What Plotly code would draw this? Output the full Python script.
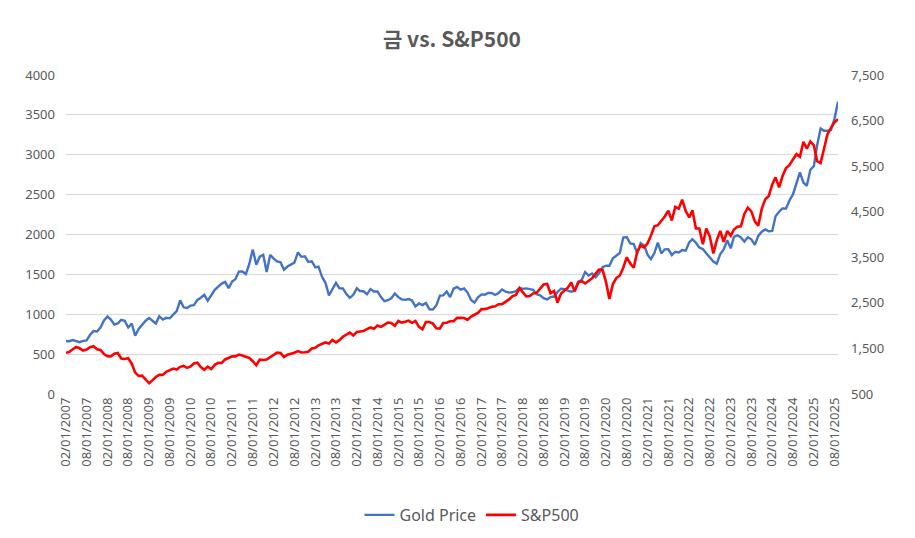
import plotly.graph_objects as go
import pandas as pd

# Monthly points, Feb 2007 .. Sep 2025 (month-end style values)
dates = pd.date_range("2007-02-01", "2025-09-01", freq="MS")

gold_price = [
    # 2007 Feb-Dec
    664, 662, 677, 659, 650, 665, 673, 743, 789, 783, 834,
    # 2008
    923, 971, 933, 871, 886, 930, 918, 834, 884, 730, 815, 870,
    # 2009
    919, 952, 916, 884, 975, 934, 955, 949, 996, 1040, 1175, 1087,
    # 2010
    1078, 1109, 1115, 1180, 1207, 1244, 1169, 1246, 1307, 1346, 1384, 1405,
    # 2011
    1327, 1411, 1439, 1535, 1536, 1505, 1628, 1813, 1620, 1722, 1746, 1531,
    # 2012
    1744, 1697, 1662, 1651, 1558, 1598, 1622, 1648, 1776, 1720, 1726, 1657,
    # 2013
    1664, 1588, 1598, 1469, 1394, 1235, 1314, 1394, 1326, 1324, 1253, 1205,
    # 2014
    1244, 1326, 1291, 1288, 1250, 1315, 1285, 1286, 1216, 1164, 1176, 1200,
    # 2015
    1260, 1214, 1187, 1180, 1191, 1172, 1098, 1135, 1115, 1142, 1062, 1060,
    # 2016
    1112, 1234, 1237, 1285, 1215, 1321, 1343, 1309, 1323, 1272, 1178, 1146,
    # 2017
    1212, 1249, 1245, 1266, 1266, 1242, 1267, 1311, 1283, 1271, 1275, 1291,
    # 2018
    1331, 1318, 1324, 1316, 1305, 1250, 1237, 1201, 1187, 1215, 1222, 1279,
    # 2019
    1321, 1316, 1295, 1283, 1295, 1409, 1427, 1528, 1485, 1511, 1464, 1515,
    # 2020
    1589, 1609, 1608, 1702, 1730, 1768, 1962, 1968, 1887, 1879, 1763, 1891,
    # 2021
    1863, 1743, 1691, 1768, 1899, 1763, 1814, 1815, 1743, 1784, 1774, 1806,
    # 2022
    1797, 1901, 1942, 1897, 1837, 1817, 1765, 1711, 1660, 1634, 1754, 1812,
    # 2023
    1928, 1826, 1969, 1990, 1962, 1912, 1965, 1940, 1870, 1983, 2036, 2063,
    # 2024
    2039, 2044, 2230, 2286, 2327, 2326, 2427, 2503, 2630, 2780, 2650, 2610,
    # 2025 Jan-Sep
    2812, 2858, 3115, 3330, 3300, 3300, 3310, 3450, 3665,
]

sp500 = [
    # 2007 Feb-Dec
    1406, 1420, 1482, 1530, 1503, 1455, 1474, 1527, 1549, 1481, 1468,
    # 2008
    1378, 1331, 1323, 1386, 1400, 1280, 1267, 1283, 1165, 969, 896, 903,
    # 2009
    826, 735, 798, 873, 919, 919, 987, 1021, 1057, 1036, 1096, 1115,
    # 2010
    1074, 1104, 1169, 1187, 1089, 1031, 1102, 1049, 1141, 1183, 1181, 1258,
    # 2011
    1286, 1327, 1326, 1364, 1345, 1321, 1292, 1219, 1131, 1253, 1247, 1258,
    # 2012
    1312, 1366, 1408, 1398, 1310, 1362, 1379, 1407, 1441, 1412, 1416, 1426,
    # 2013
    1498, 1515, 1569, 1598, 1631, 1606, 1686, 1633, 1682, 1757, 1806, 1848,
    # 2014
    1783, 1859, 1872, 1884, 1924, 1960, 1931, 2003, 1972, 2018, 2068, 2059,
    # 2015
    1995, 2105, 2068, 2086, 2107, 2063, 2104, 1973, 1920, 2079, 2080, 2044,
    # 2016
    1940, 1932, 2060, 2065, 2097, 2099, 2174, 2171, 2168, 2126, 2199, 2239,
    # 2017
    2279, 2364, 2363, 2384, 2412, 2423, 2470, 2472, 2519, 2575, 2648, 2674,
    # 2018
    2824, 2714, 2641, 2648, 2705, 2718, 2816, 2902, 2914, 2712, 2760, 2507,
    # 2019
    2704, 2784, 2834, 2946, 2752, 2942, 2980, 2926, 2977, 3038, 3141, 3231,
    # 2020
    3226, 2954, 2585, 2912, 3044, 3100, 3271, 3500, 3363, 3270, 3622, 3756,
    # 2021
    3714, 3811, 3973, 4181, 4204, 4298, 4395, 4523, 4308, 4605, 4567, 4766,
    # 2022
    4516, 4374, 4530, 4132, 4132, 3785, 4130, 3955, 3586, 3872, 4080, 3840,
    # 2023
    4077, 3970, 4109, 4169, 4180, 4450, 4589, 4508, 4288, 4194, 4568, 4770,
    # 2024
    4846, 5096, 5254, 5036, 5278, 5460, 5522, 5648, 5762, 5705, 6032, 5882,
    # 2025 Jan-Sep
    6041, 5955, 5612, 5569, 5912, 6205, 6339, 6460, 6530,
]

left_ticks = list(range(0, 4001, 500))
right_ticks = list(range(500, 7501, 1000))

font_family = "Noto Sans, Open Sans, Lato, sans-serif"
text_color = "#595959"

# the page places the figure 8px in from the top-left corner
W, H = 907, 530

fig = go.Figure()
fig.add_trace(go.Scatter(
    x=dates, y=gold_price, name="Gold Price", mode="lines",
    line=dict(color="#4472C4", width=2.4), yaxis="y",
))
fig.add_trace(go.Scatter(
    x=dates, y=sp500, name="S&P500", mode="lines",
    line=dict(color="#FF0000", width=2.6), yaxis="y2",
))

fig.update_layout(
    width=W, height=H,
    margin=dict(l=58, r=77, t=67, b=144),
    paper_bgcolor="white", plot_bgcolor="white",
    title=dict(
        text="<b>금 vs. S&P500</b>",
        x=0.5, xref="paper", xanchor="center",
        y=1 - 32 / H, yref="container", yanchor="middle",
        font=dict(family="Noto Sans CJK KR, Noto Sans, sans-serif", size=21, color=text_color),
    ),
    font=dict(family=font_family, size=13, color=text_color),
    showlegend=True,
    legend=dict(
        orientation="h",
        x=464 / W, xref="container", xanchor="center",
        y=1 - 507 / H, yref="container", yanchor="middle",
        font=dict(family=font_family, size=16, color=text_color),
        itemwidth=30,
        traceorder="normal",
    ),
    xaxis=dict(
        type="date",
        range=[dates[0], dates[-1]],
        tick0="2007-02-01", dtick="M6",
        tickformat="%m/%d/%Y",
        tickangle=-90,
        showgrid=False, zeroline=False, showline=False,
        ticks="",
        tickfont=dict(family=font_family, size=13, color=text_color),
    ),
    yaxis=dict(
        range=[0, 4000], tickvals=left_ticks,
        tickformat="d",
        showgrid=True, gridcolor="#D9D9D9", gridwidth=1,
        zeroline=False, showline=False, ticks="",
        ticklabelstandoff=10,
        tickfont=dict(family=font_family, size=13, color=text_color),
    ),
    yaxis2=dict(
        range=[500, 7500], tickvals=right_ticks,
        tickformat=",",
        overlaying="y", side="right",
        showgrid=False, zeroline=False, showline=False, ticks="",
        ticklabelstandoff=12,
        tickfont=dict(family=font_family, size=13, color=text_color),
    ),
)

fig.write_html("out.html")
